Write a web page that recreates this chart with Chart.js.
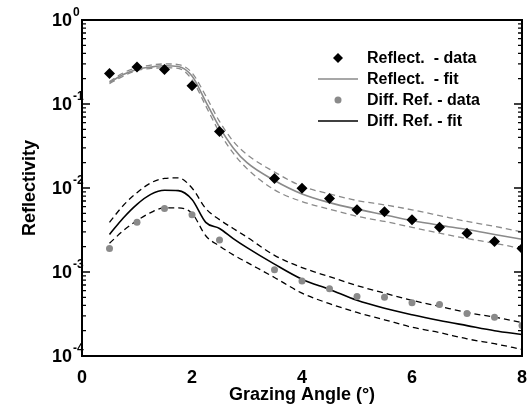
<!DOCTYPE html>
<html>
<head>
<meta charset="utf-8">
<script src="https://cdn.jsdelivr.net/npm/chart.js@4.4.1/dist/chart.umd.min.js"></script>
<style>
  html, body { margin: 0; padding: 0; background: #fff; }
</style>
</head>
<body>
<canvas id="chart" width="532" height="406"></canvas>
<script>
// measured points (diamonds / grey dots)
const dataX = [0.5, 1, 1.5, 2, 2.5, 3.5, 4, 4.5, 5, 5.5, 6, 6.5, 7, 7.5, 8];
const reflData = [0.23, 0.275, 0.257, 0.165, 0.047, 0.013, 0.0099, 0.0075, 0.0055, 0.0052, 0.0042, 0.0034, 0.0029, 0.0023, 0.0019];
const diffData = [0.0019, 0.0039, 0.0057, 0.0048, 0.0024, 0.00106, 0.00078, 0.00063, 0.00051, 0.0005, 0.00043, 0.00041, 0.00032, 0.00029, 0.00023];

// fit curves and their bounds
const fitX = [0.5, 0.75, 1, 1.25, 1.5, 1.75, 2, 2.25, 2.5, 2.75, 3, 3.5, 4, 4.5, 5, 5.5, 6, 6.5, 7, 7.5, 8];
const reflFit = [0.18, 0.225, 0.258, 0.275, 0.285, 0.28, 0.215, 0.107, 0.053, 0.030, 0.020, 0.0123, 0.0085, 0.0067, 0.0056, 0.0048, 0.0041, 0.0036, 0.0032, 0.0028, 0.00245];
const reflHi = [0.185, 0.235, 0.27, 0.29, 0.30, 0.295, 0.235, 0.125, 0.062, 0.036, 0.025, 0.0155, 0.0105, 0.0085, 0.0071, 0.0063, 0.0055, 0.0047, 0.0040, 0.0035, 0.0030];
const reflLo = [0.175, 0.215, 0.25, 0.265, 0.27, 0.265, 0.195, 0.095, 0.046, 0.026, 0.017, 0.0095, 0.0069, 0.0056, 0.0046, 0.0040, 0.0034, 0.0029, 0.0025, 0.0022, 0.0019];
const diffFit = [0.0028, 0.0044, 0.0064, 0.0084, 0.0094, 0.0093, 0.0073, 0.0039, 0.0033, 0.0025, 0.00195, 0.00124, 0.00082, 0.00062, 0.00046, 0.00037, 0.00031, 0.000265, 0.00023, 0.0002, 0.00018];
const diffHi = [0.0039, 0.0062, 0.0088, 0.0115, 0.013, 0.0132, 0.0100, 0.0057, 0.0042, 0.0033, 0.0026, 0.00158, 0.00113, 0.00088, 0.00069, 0.00056, 0.00046, 0.00039, 0.00033, 0.00029, 0.00025];
const diffLo = [0.0022, 0.0031, 0.0041, 0.0051, 0.0058, 0.0058, 0.0050, 0.0027, 0.00204, 0.0016, 0.0013, 0.00086, 0.00056, 0.00042, 0.00033, 0.00027, 0.00022, 0.00019, 0.00016, 0.00014, 0.00012];

const xTicks = [0, 2, 4, 6, 8];
const yExp = [0, -1, -2, -3, -4];
const legendLabels = ['Reflect.  - data', 'Reflect.  - fit', 'Diff. Ref. - data', 'Diff. Ref. - fit'];

const GRAY = '#8a8a8a';
const FONT = 'Arial, "Liberation Sans", sans-serif';

const pts = (xs, ys) => xs.map((x, i) => ({ x: x, y: ys[i] }));

function line(ys, color, dash, order) {
    return {
        data: pts(fitX, ys), borderColor: color, borderWidth: dash ? 1.3 : 1.6,
        borderDash: dash ? [6, 4] : [], pointRadius: 0, showLine: true,
        cubicInterpolationMode: 'monotone', order: order
    };
}

// axes frame, inside ticks, y labels with exponents, legend
const frame = {
    id: 'frame',
    afterDraw(chart) {
        const { ctx, chartArea: a, scales: { y } } = chart;
        ctx.save();
        ctx.strokeStyle = '#000';
        ctx.lineWidth = 1.3;
        for (let e = -4; e <= 0; e++) {
            for (let m = 1; m <= 9; m++) {
                if (e === 0 && m > 1) break;
                const py = y.getPixelForValue(m * Math.pow(10, e));
                const len = m === 1 ? 8 : 4;
                ctx.beginPath();
                ctx.moveTo(a.left, py); ctx.lineTo(a.left + len, py);
                ctx.moveTo(a.right, py); ctx.lineTo(a.right - len, py);
                ctx.stroke();
            }
        }
        ctx.lineWidth = 2;
        ctx.strokeRect(a.left, a.top, a.right - a.left, a.bottom - a.top);

        ctx.fillStyle = '#000';
        yExp.forEach(e => {
            const py = y.getPixelForValue(Math.pow(10, e));
            ctx.font = 'bold 18px ' + FONT;
            ctx.textAlign = 'right';
            ctx.textBaseline = 'middle';
            ctx.fillText('10', a.left - 10, py + 1);
            ctx.font = 'bold 12px ' + FONT;
            ctx.textAlign = 'left';
            ctx.fillText(String(e), a.left - 9, py - 7);
        });

        ctx.save();
        ctx.translate(30, (a.top + a.bottom) / 2);
        ctx.rotate(-Math.PI / 2);
        ctx.font = 'bold 18px ' + FONT;
        ctx.textAlign = 'center';
        ctx.textBaseline = 'middle';
        ctx.fillText('Reflectivity', 0, 0);
        ctx.restore();

        // legend
        const mx = a.left + 256, tx = a.left + 285;
        legendLabels.forEach((txt, i) => {
            const ly = a.top + 38 + i * 21;
            if (i === 0) {
                ctx.fillStyle = '#000';
                ctx.beginPath();
                ctx.moveTo(mx, ly - 5); ctx.lineTo(mx + 5, ly);
                ctx.lineTo(mx, ly + 5); ctx.lineTo(mx - 5, ly);
                ctx.closePath(); ctx.fill();
            } else if (i === 2) {
                ctx.fillStyle = GRAY;
                ctx.beginPath(); ctx.arc(mx, ly, 3.5, 0, Math.PI * 2); ctx.fill();
            } else {
                ctx.strokeStyle = i === 1 ? GRAY : '#000';
                ctx.lineWidth = 1.6;
                ctx.beginPath(); ctx.moveTo(mx - 20, ly); ctx.lineTo(mx + 20, ly); ctx.stroke();
            }
            ctx.fillStyle = '#000';
            ctx.font = 'bold 16px ' + FONT;
            ctx.textAlign = 'left';
            ctx.textBaseline = 'middle';
            ctx.fillText(txt, tx, ly + 1);
        });
        ctx.restore();
    }
};

new Chart(document.getElementById('chart'), {
    type: 'scatter',
    data: {
        datasets: [
            line(reflHi, GRAY, true, 5),
            line(reflLo, GRAY, true, 5),
            line(diffHi, '#000', true, 5),
            line(diffLo, '#000', true, 5),
            line(reflFit, GRAY, false, 4),
            line(diffFit, '#000', false, 4),
            { data: pts(dataX, reflData), pointStyle: 'rectRot', pointRadius: 5.5, backgroundColor: '#000', borderWidth: 0, order: 1 },
            { data: pts(dataX, diffData), pointStyle: 'circle', pointRadius: 3.5, backgroundColor: GRAY, borderWidth: 0, order: 1 }
        ]
    },
    options: {
        responsive: false,
        animation: false,
        layout: { padding: { left: 82, top: 20, right: 10, bottom: 0 } },
        plugins: { legend: { display: false }, tooltip: { enabled: false } },
        scales: {
            x: {
                type: 'linear', min: 0, max: 8,
                afterBuildTicks: s => { s.ticks = xTicks.map(v => ({ value: v })); },
                afterFit: s => { s.height = 50; s.paddingRight = 0; s.paddingLeft = 0; },
                grid: { display: false, drawTicks: false },
                border: { display: false },
                ticks: { color: '#000', padding: 11, font: { family: FONT, size: 18, weight: 'bold' } },
                title: { display: true, text: 'Grazing Angle (°)', color: '#000', padding: { top: 0, bottom: 0 }, font: { family: FONT, size: 18, weight: 'bold' } }
            },
            y: {
                type: 'logarithmic', min: 1e-4, max: 1,
                afterFit: s => { s.width = 0; s.paddingTop = 0; s.paddingBottom = 0; },
                grid: { display: false, drawTicks: false },
                border: { display: false },
                ticks: { display: false }
            }
        }
    },
    plugins: [frame]
});
</script>
</body>
</html>
